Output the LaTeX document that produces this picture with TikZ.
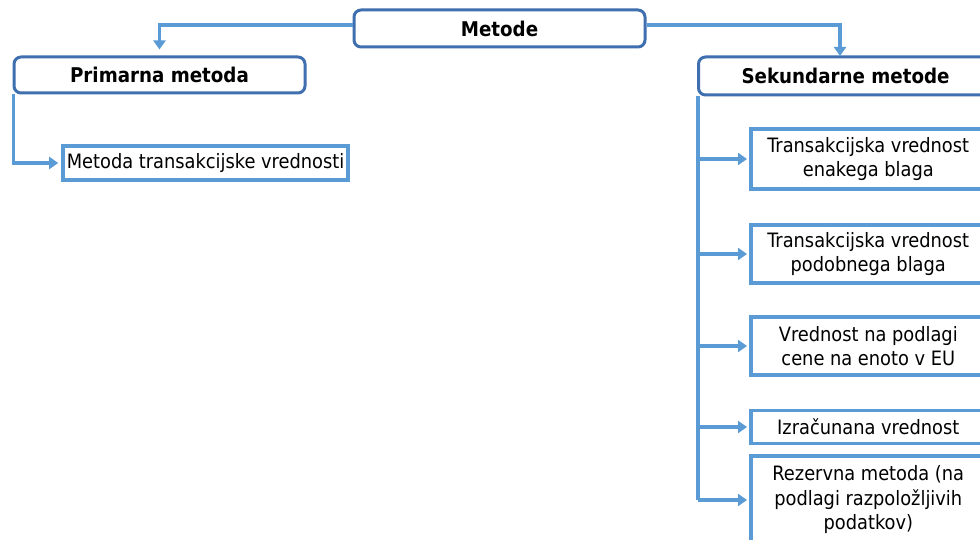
\documentclass[tikz,border=0pt]{standalone}
\usepackage{fontspec}
\setmainfont{DejaVu Sans Condensed}
\usetikzlibrary{arrows.meta}
\definecolor{linec}{HTML}{5B9BD5}
\definecolor{rbord}{HTML}{3F6FAE}
\tikzset{
  rbox/.style={draw=rbord, line width=3pt, rounded corners=7pt, fill=white, inner sep=0pt, font=\fontsize{20.3}{22}\selectfont\bfseries},
  sbox/.style={draw=linec, line width=3.6pt, fill=white, inner sep=0pt, align=center, font=\fontsize{19.8}{24.5}\selectfont},
  conn/.style={draw=linec, line width=3.3pt},
  arr/.style={conn, -{Triangle[length=9pt,width=12pt]}},
}
\begin{document}
\begin{tikzpicture}[x=1pt,y=-1pt]
\useasboundingbox (0,0) rectangle (980,540);
\clip (0,0) rectangle (980,540);
\node[rbox, minimum width=291pt, minimum height=37pt] (m) at (499.5,28.5) {Metode};
\node[rbox, minimum width=291pt, minimum height=36pt] (p) at (159.5,75) {Primarna metoda};
\node[sbox, minimum width=285pt, minimum height=34pt] (mt) at (205.5,163) {Metoda transakcijske vrednosti};
\node[rbox, minimum width=300pt, minimum height=38pt, anchor=west] (s) at (697,76) {\hspace*{-6pt}Sekundarne metode};
\coordinate (sa) at (840,57);
\node[sbox, minimum width=235pt, minimum height=60pt, anchor=west] (b1) at (749,159) {Transakcijska vrednost\\enakega blaga};
\node[sbox, minimum width=235pt, minimum height=58pt, anchor=west] (b2) at (749,254) {Transakcijska vrednost\\podobnega blaga};
\node[sbox, minimum width=235pt, minimum height=58pt, anchor=west] (b3) at (749,346) {Vrednost na podlagi\\cene na enoto v EU};
\node[sbox, minimum width=235pt, minimum height=33pt, anchor=west] (b4) at (749,427) {Izračunana vrednost};
\node[sbox, minimum width=235pt, minimum height=88pt, anchor=west] (b5) at (749,500) {Rezervna metoda (na\\podlagi razpoložljivih\\podatkov)};
% connectors
\draw[arr, shorten >=6pt] ([yshift=3.5pt]m.west) -| (p.north);
\draw[arr, shorten >=1pt] ([yshift=3.5pt]m.east) -| (sa);
\draw[arr, shorten >=3pt] ([xshift=1pt]p.south west) |- (mt.west);
\draw[conn] ([xshift=1pt]s.south west) -- ([xshift=1pt]s.west |- b5.west);
\foreach \b in {b1,b2,b3,b4,b5}
  \draw[arr, shorten >=2pt] ([xshift=1pt]s.west |- \b.west) -- (\b.west);
\end{tikzpicture}
\end{document}
